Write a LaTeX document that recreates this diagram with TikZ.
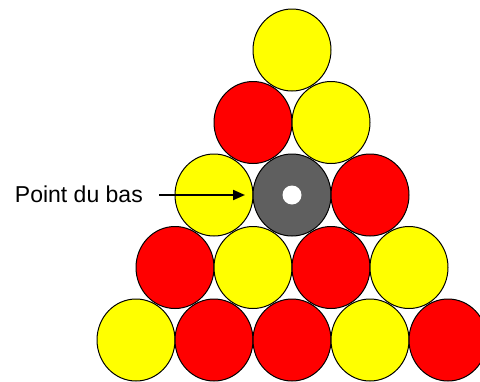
\documentclass[tikz,border=0pt]{standalone}
\usepackage{fontspec}
\setmainfont{Liberation Sans}
\usetikzlibrary{shapes.geometric,arrows.meta}
\definecolor{ballyellow}{RGB}{255,255,0}
\definecolor{ballred}{RGB}{255,0,0}
\definecolor{ballgray}{RGB}{95,95,95}
\begin{document}
\begin{tikzpicture}[x=1pt,y=-1pt,
  ball/.style={ellipse,draw=black,line width=1pt,minimum width=78pt,minimum height=82pt,inner sep=0pt},
  yb/.style={ball,fill=ballyellow},
  rb/.style={ball,fill=ballred},
  gb/.style={ball,fill=ballgray},
  dot/.style={circle,fill=white,minimum size=19pt,inner sep=0pt},
  lbl/.style={font=\fontsize{23}{27}\selectfont,inner sep=0pt,anchor=base east},
  pointer/.style={line width=2pt,-{Triangle[length=12pt,width=10pt]}}]
\useasboundingbox (0,0) rectangle (480,381);
% row 1
\node[yb] (b11) at (292,50) {};
% row 2
\node[rb] (b21) at (253,122.5) {};
\node[yb] (b22) at (331,122.5) {};
% row 3
\node[yb] (b31) at (214,195) {};
\node[gb] (b32) at (292,195) {};
\node[rb] (b33) at (370,195) {};
% row 4
\node[rb] (b41) at (175,267.5) {};
\node[yb] (b42) at (253,267.5) {};
\node[rb] (b43) at (331,267.5) {};
\node[yb] (b44) at (409,267.5) {};
% row 5
\node[yb] (b51) at (136,340) {};
\node[rb] (b52) at (214,340) {};
\node[rb] (b53) at (292,340) {};
\node[yb] (b54) at (370,340) {};
\node[rb] (b55) at (448,340) {};
% centre dot
\node[dot] (hole) at (b32.center) {};
% label and arrow
\node[lbl] (label) at (143,202) {Point du bas};
\coordinate (tail) at (159,195);
\draw[pointer] (tail) -- (b32.west -| 245,0);
\end{tikzpicture}
\end{document}
